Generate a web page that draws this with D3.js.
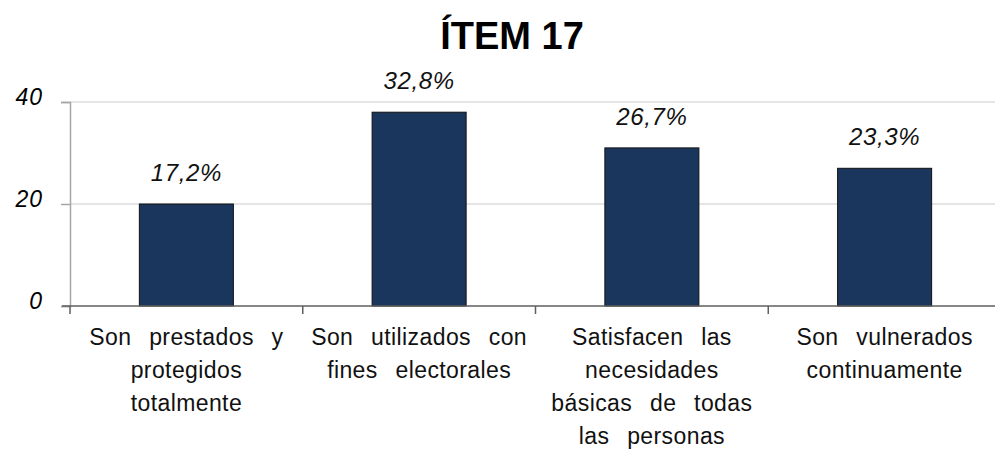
<!DOCTYPE html>
<html>
<head>
<meta charset="utf-8">
<script src="https://cdn.jsdelivr.net/npm/d3@7"></script>
<style>
  body { margin: 0; background: #fff; }
  svg { display: block; font-family: "Liberation Sans", Arial, sans-serif; }
</style>
</head>
<body>
<svg id="chart" width="995" height="450"></svg>
<script>
const title = 'ÍTEM 17';
const categories = [
    ['Son prestados y', 'protegidos', 'totalmente'],
    ['Son utilizados con', 'fines electorales'],
    ['Satisfacen las', 'necesidades', 'básicas de todas', 'las personas'],
    ['Son vulnerados', 'continuamente']
];
const counts = [20, 38, 31, 27];
const percents = ['17,2%', '32,8%', '26,7%', '23,3%'];
const yTicks = [0, 20, 40];

const svg = d3.select('#chart');
const [plotLeft, plotRight, plotTop, plotBottom] = [70, 1001, 102, 306];

const x = d3.scaleBand().domain(d3.range(categories.length)).range([plotLeft, plotRight]).padding(0);
const y = d3.scaleLinear().domain([0, 40]).range([plotBottom, plotTop]);
const barW = x.bandwidth() * 0.404;

// title
svg.append('text')
    .attr('x', 512).attr('y', 49)
    .attr('text-anchor', 'middle')
    .attr('font-size', 38).attr('font-weight', 'bold')
    .attr('fill', '#000')
    .text(title);

// gridlines
svg.append('g')
    .selectAll('line')
    .data(yTicks.filter(d => d > 0))
    .enter().append('line')
    .attr('x1', plotLeft).attr('x2', 995)
    .attr('y1', d => y(d)).attr('y2', d => y(d))
    .attr('stroke', '#dcdcdc').attr('stroke-width', 1.5);

// y axis
const yAxis = svg.append('g')
    .attr('transform', `translate(${plotLeft},0)`)
    .call(d3.axisLeft(y).tickValues(yTicks).tickSize(9).tickPadding(0).tickFormat(d3.format('d')));
yAxis.select('.domain').attr('stroke', '#a6a6a6').attr('stroke-width', 1.5);
yAxis.selectAll('.tick line').attr('stroke', '#a6a6a6').attr('stroke-width', 1.5);
yAxis.selectAll('.tick text')
    .attr('x', -27).attr('dy', '0.12em')
    .attr('font-size', 23).attr('font-style', 'italic')
    .attr('letter-spacing', 1)
    .attr('font-family', '"Liberation Sans", Arial, sans-serif')
    .attr('fill', '#000');

// bars
svg.append('g')
    .selectAll('rect')
    .data(counts)
    .enter().append('rect')
    .attr('x', (d, i) => x(i) + (x.bandwidth() - barW) / 2)
    .attr('y', d => y(d))
    .attr('width', barW)
    .attr('height', d => y(0) - y(d))
    .attr('fill', '#1b365d')
    .attr('stroke', '#111').attr('stroke-width', 1);

// value labels
svg.append('g')
    .selectAll('text')
    .data(counts)
    .enter().append('text')
    .attr('x', (d, i) => x(i) + x.bandwidth() / 2)
    .attr('y', d => y(d) - 23)
    .attr('text-anchor', 'middle')
    .attr('font-size', 24).attr('font-style', 'italic')
    .attr('letter-spacing', 0.6)
    .attr('fill', '#111')
    .text((d, i) => percents[i]);

// x axis
svg.append('line')
    .attr('x1', 62).attr('x2', 995)
    .attr('y1', y(0)).attr('y2', y(0))
    .attr('stroke', '#5f5f5f').attr('stroke-width', 1.5);
svg.append('g')
    .selectAll('line')
    .data(d3.range(categories.length))
    .enter().append('line')
    .attr('x1', d => x(d)).attr('x2', d => x(d))
    .attr('y1', y(0)).attr('y2', y(0) + 8)
    .attr('stroke', '#5f5f5f').attr('stroke-width', 1.5);

// category labels
const cat = svg.append('g')
    .selectAll('text')
    .data(categories)
    .enter().append('text')
    .attr('text-anchor', 'middle')
    .attr('font-size', 23)
    .attr('word-spacing', 11)
    .attr('letter-spacing', 0.4)
    .attr('fill', '#111');
cat.selectAll('tspan')
    .data((d, i) => d.map(t => ({t, i})))
    .enter().append('tspan')
    .attr('x', d => x(d.i) + x.bandwidth() / 2)
    .attr('y', (d, j) => y(0) + 39 + j * 33)
    .text(d => d.t);
</script>
</body>
</html>
